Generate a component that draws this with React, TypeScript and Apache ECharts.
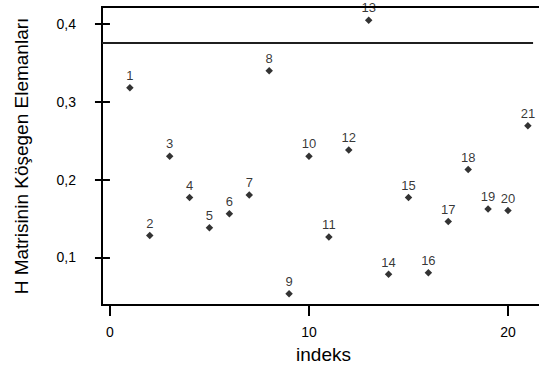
import React, { useEffect, useRef } from "react";
import * as echarts from "echarts";

// Diagonal elements of the hat matrix, one per observation index
const indices = [1, 2, 3, 4, 5, 6, 7, 8, 9, 10, 11, 12, 13, 14, 15, 16, 17, 18, 19, 20, 21];
const leverage = [
  0.318, 0.128, 0.23, 0.177, 0.138, 0.156, 0.18, 0.34, 0.053, 0.23, 0.126,
  0.238, 0.405, 0.078, 0.177, 0.08, 0.146, 0.213, 0.162, 0.16, 0.269,
];
const cutoff = 0.376;
const xTicks = [0, 10, 20];
const yTicks = [0.1, 0.2, 0.3, 0.4];

const FONT = "'Liberation Sans', Arial, Helvetica, sans-serif";

export default function App() {
  const ref = useRef<HTMLDivElement>(null);

  useEffect(() => {
    if (!ref.current) return;
    const chart = echarts.init(ref.current, undefined, { renderer: "svg" });
    const points = indices.map((x, i) => [x, leverage[i]]);
    const xMin = -0.4;
    const xMax = 21.86;

    chart.setOption({
      animation: false,
      backgroundColor: "#fff",
      textStyle: { fontFamily: FONT, color: "#000" },
      grid: {
        left: 102,
        top: 7,
        width: 443,
        height: 298,
        show: true,
        borderColor: "#000",
        borderWidth: 2,
        backgroundColor: "transparent",
        containLabel: false,
        outerBoundsMode: "none",
      },
      xAxis: {
        type: "value",
        min: xMin,
        max: xMax,
        name: "indeks",
        nameLocation: "middle",
        nameGap: 40,
        nameTextStyle: { fontSize: 19, color: "#000", fontFamily: FONT },
        axisLine: { show: false },
        splitLine: { show: false },
        axisTick: {
          show: true,
          customValues: xTicks,
          length: 11,
          lineStyle: { color: "#000", width: 2 },
        },
        axisLabel: {
          customValues: xTicks,
          margin: 20,
          fontSize: 14,
          color: "#000",
          fontFamily: FONT,
        },
      },
      yAxis: {
        type: "value",
        min: 0.0386,
        max: 0.4219,
        name: "H Matrisinin Köşegen Elemanları",
        nameLocation: "middle",
        nameRotate: 90,
        nameGap: 71,
        nameTextStyle: { fontSize: 19, color: "#000", fontFamily: FONT },
        axisLine: { show: false },
        splitLine: { show: false },
        axisTick: {
          show: true,
          customValues: yTicks,
          length: 15,
          lineStyle: { color: "#000", width: 2 },
        },
        axisLabel: {
          customValues: yTicks,
          margin: 26,
          fontSize: 14,
          color: "#000",
          fontFamily: FONT,
          formatter: (v: number) => v.toFixed(1).replace(".", ","),
        },
      },
      series: [
        {
          type: "scatter",
          data: points,
          symbol: "diamond",
          symbolSize: 7.5,
          itemStyle: { color: "#000" },
          label: {
            show: true,
            position: "top",
            distance: 2,
            fontSize: 13,
            color: "#000",
            fontFamily: FONT,
            formatter: (p: any) => String(p.data[0]),
          },
          markLine: {
            silent: true,
            symbol: "none",
            label: { show: false },
            lineStyle: { color: "#1f1f1f", width: 1.8, type: "solid" },
            data: [
              [
                { coord: [xMin, cutoff] },
                { coord: [21.26, cutoff] },
              ],
            ],
          },
        },
      ],
    });

    return () => chart.dispose();
  }, []);

  return (
    <div
      ref={ref}
      style={{ position: "fixed", left: 0, top: 0, width: 539, height: 373 }}
    />
  );
}
